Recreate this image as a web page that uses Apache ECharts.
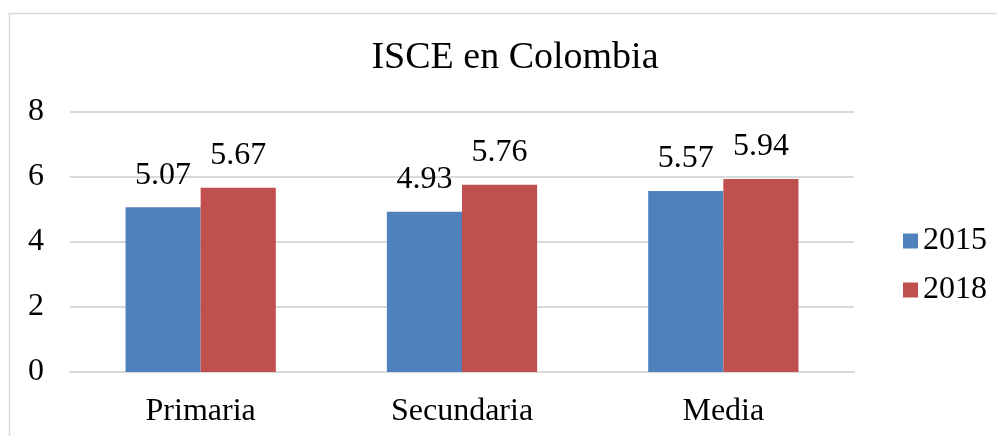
<!DOCTYPE html>
<html><head><meta charset="utf-8">
<script src="https://cdn.jsdelivr.net/npm/echarts@6/dist/echarts.min.js"></script>
<style>html,body{margin:0;padding:0;background:#fff}#c{width:997px;height:436px}</style>
</head><body><div id="c"></div>
<script>
var categories = ["Primaria", "Secundaria", "Media"];
var seriesNames = ["2015", "2018"];
var values2015 = [5.07, 4.93, 5.57];
var values2018 = [5.67, 5.76, 5.94];
var yTicks = [0, 2, 4, 6, 8];

var FONT = '"Liberation Serif","Times New Roman",serif';
var chart = echarts.init(document.getElementById('c'));
var lbl = {show: true, position: 'top', fontFamily: FONT, fontSize: 32, color: '#000', distance: 16,
  formatter: function(p){ return p.value.toFixed(2); }};
chart.setOption({
  animation: false,
  graphic: [{type: 'rect', shape: {x: 9.5, y: 13.5, width: 1000, height: 440},
    style: {fill: 'none', stroke: '#d9d9d9', lineWidth: 1.5}}],
  title: {text: 'ISCE en Colombia', left: 510, top: 34, textAlign: 'center',
    textStyle: {fontFamily: FONT, fontSize: 38, fontWeight: 'normal', color: '#000'}},
  legend: {orient: 'vertical', left: 898, top: 220, itemWidth: 15, itemHeight: 15, itemGap: 17,
    icon: 'rect', textStyle: {fontFamily: FONT, fontSize: 32, color: '#000'}, data: seriesNames},
  grid: {left: 70, right: 143, top: 112, bottom: 64},
  xAxis: {type: 'category', data: categories,
    axisLine: {lineStyle: {color: '#d9d9d9', width: 2}}, axisTick: {show: false},
    axisLabel: {fontFamily: FONT, fontSize: 32, color: '#000', margin: 24}},
  yAxis: {type: 'value', min: yTicks[0], max: yTicks[yTicks.length-1], interval: 2,
    axisLine: {show: false}, axisTick: {show: false},
    axisLabel: {fontFamily: FONT, fontSize: 32, color: '#000', margin: 26},
    splitLine: {lineStyle: {color: '#d9d9d9', width: 2}}},
  series: [
    {name: seriesNames[0], type: 'bar', data: values2015, barGap: '0%', barCategoryGap: '42.5%',
      itemStyle: {color: '#4F81BD'}, label: lbl},
    {name: seriesNames[1], type: 'bar', data: values2018, barGap: '0%', barCategoryGap: '42.5%',
      itemStyle: {color: '#C0504D'}, label: lbl}
  ]
});
</script></body></html>
